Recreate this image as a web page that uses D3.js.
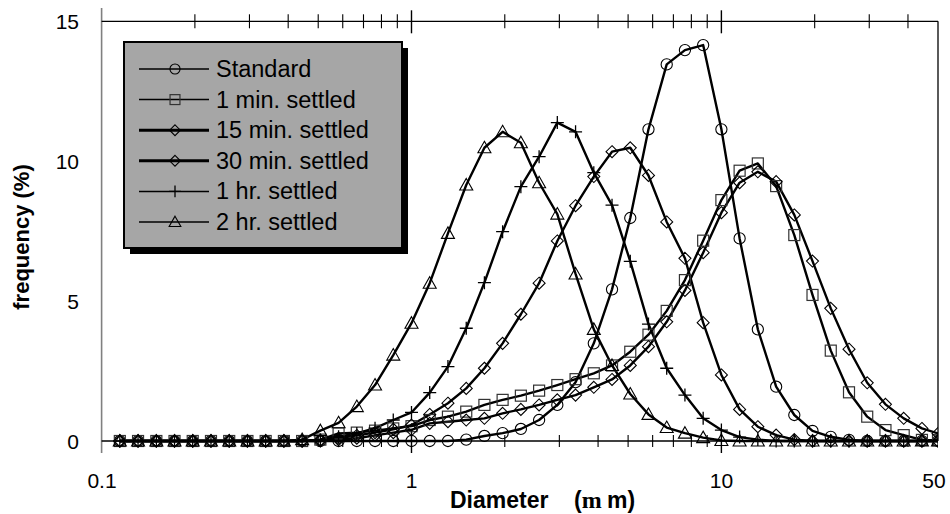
<!DOCTYPE html>
<html><head><meta charset="utf-8">
<script src="https://cdn.jsdelivr.net/npm/d3@7"></script>
<style>html,body{margin:0;padding:0;background:#fff;}svg{display:block;font-family:"Liberation Sans",Arial,sans-serif;}text{white-space:pre;}</style>
</head><body>
<svg id="c" width="950" height="514"></svg>
<script>
const diameters = [0.1145,0.1311,0.1502,0.1719,0.1968,0.2254,0.2581,0.2955,0.3384,0.3875,0.4437,0.5081,0.5817,0.6661,0.7627,0.8733,
  1,1.145,1.311,1.502,1.719,1.968,2.254,2.581,2.955,3.384,3.875,4.437,5.081,5.817,6.661,7.627,8.733,
  10,11.45,13.11,15.02,17.19,19.68,22.54,25.81,29.55,33.84,38.75,44.37,50];
const seriesNames = ["Standard","1 min. settled","15 min. settled","30 min. settled","1 hr. settled","2 hr. settled"];
const markerTypes = ["circle","square","diamond","diamond","plus","triangle"];
const standard = [0,0,0,0,0,0,0,0,0,0,0,0,0,0,0,0,0,0,0,
  0.05,0.18,0.28,0.43,0.75,1.29,2.1,3.49,5.42,7.97,11.14,13.46,13.97,14.15,11.14,7.24,3.99,1.94,0.93,0.36,0.15,0.04,0,0,0,0,0];
const min1 = [0,0,0,0,0,0,0,0,0,0,0,
  0.05,0.27,0.30,0.37,0.45,0.53,0.75,0.87,1.05,1.29,1.47,1.62,1.80,2.0,2.21,2.42,2.70,3.19,3.80,4.65,5.75,7.16,8.61,9.66,9.92,9.11,7.36,5.22,3.23,1.74,0.87,0.39,0.21,0.04,0.03];
const min15 = [0,0,0,0,0,0,0,0,0,0,0,0,
  0.05,0.1,0.2,0.3,0.4,0.63,0.69,0.75,0.81,0.99,1.13,1.29,1.47,1.64,1.92,2.2,2.7,3.37,4.26,5.38,6.73,8.16,9.23,9.62,9.27,8.08,6.43,4.74,3.28,2.08,1.31,0.81,0.45,0.27];
const min30 = [0,0,0,0,0,0,0,0,0,0,0,
  0.03,0.1,0.2,0.3,0.42,0.57,0.95,1.35,1.88,2.6,3.49,4.53,5.64,7.15,8.41,9.45,10.34,10.48,9.49,7.83,6.53,4.23,2.36,1.13,0.51,0.21,0.05,0,0,0,0,0,0,0,0];
const hr1 = [0,0,0,0,0,0,0,0,0,0,0,
  0.04,0.15,0.27,0.46,0.75,1.02,1.73,2.66,4.03,5.66,7.48,9.09,10.16,11.38,11.05,9.59,8.43,6.42,4.18,2.6,1.64,0.81,0.39,0.14,0.05,0,0,0,0,0,0,0,0,0,0];
const hr2 = [0,0,0,0,0,0,0,0,0,0,
  0.05,0.37,0.65,1.23,2.0,3.07,4.21,5.64,7.42,9.15,10.48,11.05,10.66,9.23,8.11,5.97,3.99,2.7,1.68,0.95,0.48,0.28,0.12,0.02,0,0,0,0,0,0,0,0,0,0,0,0];
const seriesValues = [standard,min1,min15,min30,hr1,hr2];
const xTickLabels = [0.1,1,10,50];
const yTickValues = [0,5,10,15];
const xMinorTicks = [0.2,0.3,0.4,0.5,0.6,0.7,0.8,0.9,2,3,4,5,6,7,8,9,20,30,40];
const xMajorTicks = [1,10];

const svg = d3.select("#c");
const L = 101.6, R = 938, T = 21.3, B = 441;
const x = d3.scaleLog().domain([0.1,50]).range([L,R]);
const y = d3.scaleLinear().domain([0,15]).range([B,T]);

svg.append("defs").append("clipPath").attr("id","pc").append("rect")
  .attr("x",L-8).attr("y",T-8).attr("width",R-L+8).attr("height",B-T+16);

function marker(g, type, cx, cy, s){
  const k = s||1;
  if(type==="circle") g.append("circle").attr("cx",cx).attr("cy",cy).attr("r",5.6*k).attr("fill","none").attr("stroke","#000").attr("stroke-width",1.1);
  else if(type==="square") g.append("rect").attr("x",cx-5.5*k).attr("y",cy-5.5*k).attr("width",11*k).attr("height",11*k).attr("fill","none").attr("stroke","#333").attr("stroke-width",1.2);
  else if(type==="diamond") g.append("path").attr("d",`M${cx},${cy-6*k}L${cx+6*k},${cy}L${cx},${cy+6*k}L${cx-6*k},${cy}Z`).attr("fill","none").attr("stroke","#000").attr("stroke-width",1.1);
  else if(type==="plus") g.append("path").attr("d",`M${cx-6.5*k},${cy}H${cx+6.5*k}M${cx},${cy-6.5*k}V${cy+6.5*k}`).attr("fill","none").attr("stroke","#000").attr("stroke-width",1.3);
  else if(type==="triangle") g.append("path").attr("d",`M${cx},${cy-6.5*k}L${cx+6.5*k},${cy+5*k}L${cx-6.5*k},${cy+5*k}Z`).attr("fill","none").attr("stroke","#000").attr("stroke-width",1.1);
}

// y axis (gray)
svg.append("line").attr("x1",L).attr("x2",L).attr("y1",8).attr("y2",453).attr("stroke","#808080").attr("stroke-width",1.6);
// top and right frame
svg.append("line").attr("x1",L).attr("x2",R).attr("y1",T).attr("y2",T).attr("stroke","#000").attr("stroke-width",1.3);
svg.append("line").attr("x1",R).attr("x2",R).attr("y1",T).attr("y2",B).attr("stroke","#000").attr("stroke-width",1.3);
// bottom axis line
svg.append("line").attr("x1",L).attr("x2",R).attr("y1",B).attr("y2",B).attr("stroke","#000").attr("stroke-width",1.3);
// ticks
const tg = svg.append("g").attr("stroke","#000").attr("stroke-width",1.1);
xMinorTicks.forEach(v=>{
  tg.append("line").attr("x1",x(v)).attr("x2",x(v)).attr("y1",T-7).attr("y2",T+7);
  tg.append("line").attr("x1",x(v)).attr("x2",x(v)).attr("y1",B-6).attr("y2",B+6);
});
xMajorTicks.forEach(v=>{
  tg.append("line").attr("x1",x(v)).attr("x2",x(v)).attr("y1",T-11).attr("y2",T+12).attr("stroke-width",1.4);
  tg.append("line").attr("x1",x(v)).attr("x2",x(v)).attr("y1",B-12).attr("y2",B+12).attr("stroke-width",1.4);
});

// tick labels
svg.append("g").selectAll("text").data(yTickValues).join("text")
  .attr("x",79).attr("y",d=>y(d)+7.5).attr("text-anchor","end").attr("font-size",21).text(d=>d);
svg.append("g").selectAll("text").data(xTickLabels).join("text")
  .attr("x",d=>d===0.1?102:(d===50?934:x(d))).attr("y",488).attr("text-anchor","middle").attr("font-size",21).text(d=>d);

// axis titles
const xt = svg.append("text").attr("y",508).attr("font-size",23).attr("font-weight","bold");
xt.append("tspan").attr("x",450).text("Diameter");
xt.append("tspan").attr("x",574).text("(");
xt.append("tspan").attr("font-family","Liberation Serif").attr("font-size",24).text("m");
xt.append("tspan").attr("x",607).text("m)");
svg.append("text").attr("transform","translate(29,237) rotate(-90)").attr("text-anchor","middle")
  .attr("font-size",22).attr("font-weight","bold").text("frequency (%)");

// series
const plot = svg.append("g").attr("clip-path","url(#pc)");
const line = d3.line().x(d=>x(d[0])).y(d=>y(d[1]));
seriesValues.forEach((vals,si)=>{
  const pts = diameters.map((d,i)=>[d,vals[i]]);
  plot.append("path").attr("d",line(pts)).attr("fill","none").attr("stroke","#000").attr("stroke-width",2.4).attr("stroke-linejoin","round");
});
seriesValues.forEach((vals,si)=>{
  const g = plot.append("g");
  diameters.forEach((d,i)=>marker(g, markerTypes[si], x(d), y(vals[i])));
});

// legend
const lg = svg.append("g");
lg.append("rect").attr("x",130).attr("y",48).attr("width",278).attr("height",206).attr("fill","#000");
lg.append("rect").attr("x",124).attr("y",42).attr("width",278).attr("height",206).attr("fill","#a6a6a6").attr("stroke","#000").attr("stroke-width",2);
const lineW = [1.5,1.5,3,3,1.5,1.5];
seriesNames.forEach((n,i)=>{
  const cy = 69 + i*30.6;
  lg.append("line").attr("x1",139).attr("x2",209).attr("y1",cy).attr("y2",cy).attr("stroke","#000").attr("stroke-width",lineW[i]);
  marker(lg, markerTypes[i], 175, cy, 0.9);
  lg.append("text").attr("x",216).attr("y",cy+8).attr("font-size",23.5).text(n);
});
</script>
</body></html>
